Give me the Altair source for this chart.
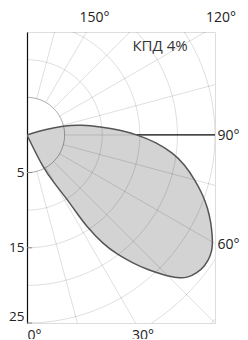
import altair as alt
import pandas as pd

# Light distribution curve (angle in degrees from nadir, intensity)
angles = [24, 25.9, 29.7, 31.8, 32.5, 33.0, 34.9, 37.2, 39.6, 41.9, 44.2, 46.5, 48.5, 50.9, 53.6,
          56.9, 58.9, 61.0, 64.7, 68.0, 71.2, 75.0, 79.25, 83.0, 86.7, 90.0, 93.1, 96.5, 100.3, 104.5, 107.0, 110]
intensity = [0, 4.87, 7.5, 9.85, 12.1, 14.4, 17.7, 20.0, 22.1, 24.1, 25.9, 27.7, 28.6, 29.1, 29.4,
             29.2, 28.8, 28.2, 27.05, 25.9, 24.7, 23.1, 21.4, 19.55, 17.2, 14.75, 12.4, 9.76, 7.43, 4.94, 2.5, 0]

ring_radii = [5, 10, 15, 20, 25, 30, 35, 40]
spoke_angles = list(range(0, 181, 15))
axis_values = [5, 15, 25]
bottom_labels = [0, 30]
right_labels = [60, 90]
top_labels = [120, 150]
efficiency_text = "КПД 4%"

X_MAX = 25
Y_MIN, Y_MAX = -25, 13.69

xs = alt.Scale(domain=[0, X_MAX], nice=False, zero=False)
ys = alt.Scale(domain=[Y_MIN, Y_MAX], nice=False, zero=False)

yaxis = alt.Axis(
    values=[-v for v in axis_values], labelExpr="abs(datum.value)", ticks=False, grid=False,
    domainColor="#111", domainWidth=1.2, labelFontSize=13.5, labelColor="#222",
    labelPadding=3, labelFlush=True, title=None, labelFont="Open Sans",
)


def X(field="x"):
    return alt.X(f"{field}:Q", scale=xs, axis=None)


def Y(field="y"):
    return alt.Y(f"{field}:Q", scale=ys, axis=yaxis)


curve_df = pd.DataFrame({"angle": angles, "I": intensity, "idx": range(len(angles))})
ring_df = pd.DataFrame([(r, a) for r in ring_radii for a in range(0, 181, 2)], columns=["r", "a"])
spoke_df = pd.DataFrame({"a": spoke_angles})
tick_df = pd.DataFrame({"v": axis_values})

RAD = "PI/180"

ref_line = alt.Chart(pd.DataFrame({"a": [90]})).transform_calculate(
    x="0", y="0", x2=f"40*sin(datum.a*{RAD})", y2=f"-40*cos(datum.a*{RAD})"
).mark_rule(color="#111", strokeWidth=1.2, clip=True).encode(
    x=X(), y=Y(), x2="x2:Q", y2="y2:Q"
)

curve_calc = alt.Chart(curve_df).transform_calculate(
    x=f"datum.I*sin(datum.angle*{RAD})", y=f"-datum.I*cos(datum.angle*{RAD})"
)
curve_fill = curve_calc.mark_line(
    fill="#d3d3d4", stroke=None, strokeWidth=0, clip=True, interpolate="basis"
).encode(x=X(), y=Y(), order="idx:Q")
curve_line = curve_calc.mark_line(
    color="#555555", strokeWidth=1.5, clip=True, interpolate="basis"
).encode(x=X(), y=Y(), order="idx:Q")

rings = alt.Chart(ring_df).transform_calculate(
    x=f"datum.r*sin(datum.a*{RAD})", y=f"-datum.r*cos(datum.a*{RAD})"
).mark_line(color="#000", strokeWidth=1, clip=True).encode(
    x=X(), y=Y(), detail="r:N", order="a:Q",
    strokeOpacity=alt.condition(alt.datum.r == 5, alt.value(0.33), alt.value(0.13)),
)

spokes = alt.Chart(spoke_df).transform_calculate(
    x=f"5*sin(datum.a*{RAD})", y=f"-5*cos(datum.a*{RAD})",
    x2=f"40*sin(datum.a*{RAD})", y2=f"-40*cos(datum.a*{RAD})",
).mark_rule(color="#000", strokeOpacity=0.13, strokeWidth=1, clip=True).encode(
    x=X(), y=Y(), x2="x2:Q", y2="y2:Q"
)

axis_ticks = alt.Chart(tick_df).transform_calculate(
    y="-datum.v", x="0", x2="0.7"
).mark_rule(color="#888", strokeWidth=1).encode(
    x=X(), y=Y(), x2="x2:Q"
)

txt = dict(fontSize=14, font="Open Sans", color="#222", baseline="middle", align="center")
bl = alt.Chart(pd.DataFrame({"a": bottom_labels})).transform_calculate(
    x=f"max(1, 26.7*tan(datum.a*{RAD}))", y="-26.7", t="datum.a + '°'"
).mark_text(**txt).encode(x=X(), y=Y(), text="t:N")
rl = alt.Chart(pd.DataFrame({"a": right_labels})).transform_calculate(
    x="26.8", y=f"-25*cos(datum.a*{RAD})/sin(datum.a*{RAD})", t="datum.a + '°'"
).mark_text(dy=1, **txt).encode(x=X(), y=Y(), text="t:N")
tl = alt.Chart(pd.DataFrame({"a": top_labels})).transform_calculate(
    x=f"min(25.8, 15.55*tan((180-datum.a)*{RAD}))", y="15.55", t="datum.a + '°'"
).mark_text(**txt).encode(x=X(), y=Y(), text="t:N")

eff = alt.Chart(pd.DataFrame({"t": [efficiency_text]})).mark_text(
    fontSize=15, font="Open Sans", color="#333", baseline="middle", align="center"
).encode(x=alt.value(133), y=alt.value(14), text="t:N")

chart = alt.layer(
    ref_line, curve_fill, rings, spokes, curve_line, axis_ticks, bl, rl, tl, eff
).properties(
    width=188, height=291,
    autosize=alt.AutoSizeParams(type="none"),
    padding={"left": 19, "top": 24, "right": 25, "bottom": 16},
).configure_view(stroke="#777", strokeWidth=1).configure(font="Open Sans")

chart.save("out.html", embed_options={"renderer": "svg", "actions": False})
